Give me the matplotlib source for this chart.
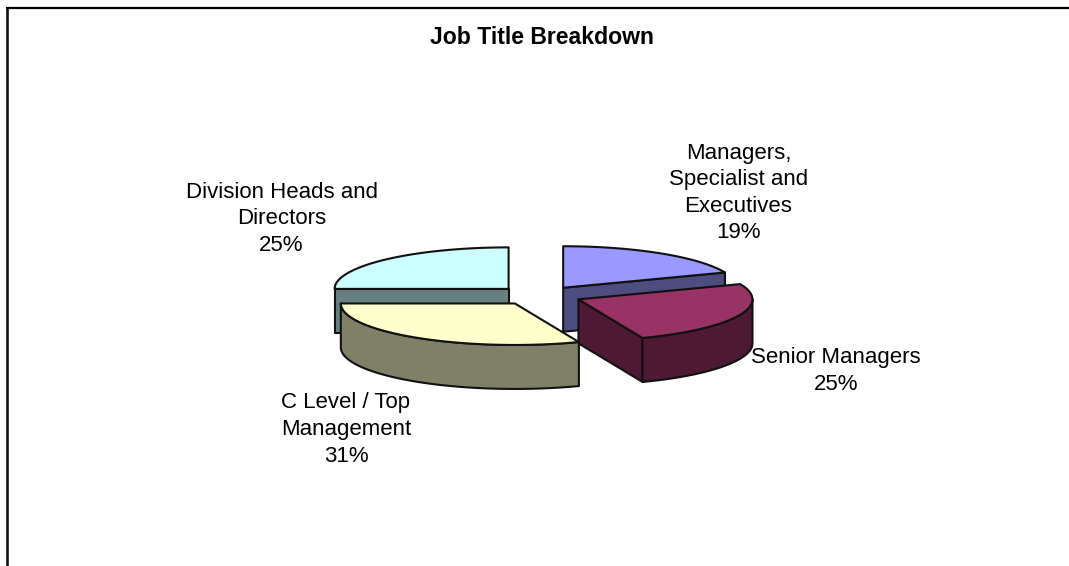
import matplotlib
matplotlib.use('Agg')
import matplotlib.pyplot as plt
import numpy as np
from matplotlib.patches import Polygon

plt.rcParams['font.family'] = ['Liberation Sans', 'DejaVu Sans']

categories = ['Managers,\nSpecialist and\nExecutives', 'Senior Managers', 'C Level / Top\nManagement', 'Division Heads and\nDirectors']
values = [19, 25, 31, 25]
top_colors = ['#9999FF', '#993366', '#FFFFCC', '#CCFFFF']
side_colors = ['#4D4D80', '#4D1933', '#808066', '#668080']
# label centres in pixels
label_pos = [(738.5, 193), (836, 371), (346, 429.5), (281.5, 219)]
draw_order = [3, 0, 1, 2]

cx, cy = 539, 295.6
rx, ry = 174, 41.5
depth = 44
explode_x, explode_y = 43, 9.5

fig = plt.figure(figsize=(10.69, 5.66), dpi=100)
ax = fig.add_axes([0, 0, 1, 1])
ax.set_xlim(0, 1069)
ax.set_ylim(566, 0)
ax.axis('off')

# frame: only top and left sides show
ax.plot([5.5, 1069], [8, 8], color='black', lw=1.6, solid_capstyle='butt')
ax.plot([6.5, 6.5], [8, 566], color='#111111', lw=1.9, solid_capstyle='butt')

ax.text(541.5, 37, 'Job Title Breakdown', ha='center', va='center', fontsize=16.6, fontweight='bold', color='black')


def arc(x0, y0, a, b):
    t = np.radians(np.linspace(a, b, 80))
    return np.column_stack([x0 + rx * np.sin(t), y0 - ry * np.cos(t)])


def face(points, color, z):
    ax.add_patch(Polygon(points, closed=True, facecolor=color, edgecolor='#111111', lw=1.5, joinstyle='round', zorder=z))


edges = np.concatenate([[0], np.cumsum(values)]) / np.sum(values) * 360

for z, i in enumerate(draw_order):
    a, b = edges[i], edges[i + 1]
    mid = np.radians((a + b) / 2)
    x0 = cx + explode_x * np.sin(mid)
    y0 = cy - explode_y * np.cos(mid)
    down = np.array([0, depth])
    apex = np.array([[x0, y0]])
    base = z * 10 + 2

    # radial side facing the viewer
    if 180 < a < 360:
        p = arc(x0, y0, a, a)[:1]
        face(np.vstack([apex, p, p + down, apex + down]), side_colors[i], base)
    if 0 < b < 180:
        p = arc(x0, y0, b, b)[:1]
        face(np.vstack([apex, p, p + down, apex + down]), side_colors[i], base)

    # outer wall, front half only
    lo, hi = max(a, 90), min(b, 270)
    if lo < hi:
        w = arc(x0, y0, lo, hi)
        face(np.vstack([w, (w + down)[::-1]]), side_colors[i], base + 1)

    face(np.vstack([apex, arc(x0, y0, a, b)]), top_colors[i], base + 2)

for name, v, (x, y) in zip(categories, values, label_pos):
    ax.text(x, y, f'{name}\n{v}%', ha='center', va='center', fontsize=16, color='black', linespacing=1.35, zorder=100)

plt.savefig('out.png', dpi=100)
